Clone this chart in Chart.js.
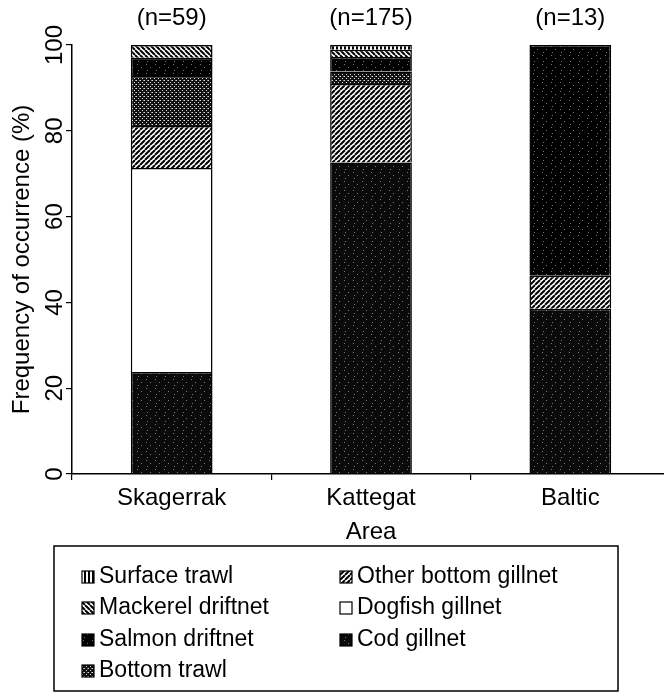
<!DOCTYPE html>
<html>
<head>
<meta charset="utf-8">
<script src="https://cdn.jsdelivr.net/npm/chart.js@4.4.1/dist/chart.umd.min.js"></script>
<style>
  html, body { margin: 0; padding: 0; background: #fff; overflow: hidden; }
  #wrap { width: 672px; height: 697px; }
</style>
</head>
<body>
<div id="wrap"><canvas id="freq" width="672" height="697"></canvas></div>
<script>
// categories + sample sizes shown over each bar
const areas = ["Skagerrak", "Kattegat", "Baltic"];
const sampleSizes = ["(n=59)", "(n=175)", "(n=13)"];
const yTicks = [0, 20, 40, 60, 80, 100];

// % of occurrence per gear, stacked bottom -> top
const codGillnet = [23.8, 72.6, 38.5];
const dogfishGillnet = [47.5, 0, 0];
const otherBottomGillnet = [9.8, 18.3, 7.7];
const bottomTrawl = [11.7, 2.9, 0];
const salmonDriftnet = [4.2, 3.4, 53.8];
const mackerelDriftnet = [3.0, 1.7, 0];
const surfaceTrawl = [0, 1.1, 0];

const FONT = "'Liberation Sans', Arial, sans-serif";
const canvas = document.getElementById("freq");
const mainCtx = canvas.getContext("2d");

function makePattern(size, draw) {
  const c = document.createElement("canvas");
  c.width = size;
  c.height = size;
  const g = c.getContext("2d");
  draw(g, size);
  return mainCtx.createPattern(c, "repeat");
}

function hatch(forward) {
  return makePattern(5, (g, s) => {
    g.fillStyle = "#fff";
    g.fillRect(0, 0, s, s);
    g.strokeStyle = "#000";
    g.lineWidth = 2;
    g.beginPath();
    for (let k = -1; k <= 1; k++) {
      if (forward) {
        g.moveTo(k * s, s);
        g.lineTo(k * s + s, 0);
      } else {
        g.moveTo(k * s, 0);
        g.lineTo(k * s + s, s);
      }
    }
    g.stroke();
  });
}

function speckle(base) {
  return makePattern(9, (g, s) => {
    g.fillStyle = base;
    g.fillRect(0, 0, s, s);
    g.fillStyle = "#777";
    g.fillRect(2, 1, 1, 1);
    g.fillRect(6, 4, 1, 1);
    g.fillRect(3, 7, 1, 1);
  });
}

const surfaceFill = makePattern(4, (g) => {
  g.fillStyle = "#fff";
  g.fillRect(0, 0, 4, 4);
  g.fillStyle = "#000";
  g.fillRect(0, 0, 2, 4);
});
const stippleFill = makePattern(4, (g) => {
  g.fillStyle = "#111";
  g.fillRect(0, 0, 4, 4);
  g.fillStyle = "#ddd";
  g.fillRect(0, 0, 1, 1);
  g.fillRect(2, 2, 1, 1);
  g.fillStyle = "#888";
  g.fillRect(3, 0, 1, 1);
});

const datasets = [
  { label: "Cod gillnet", data: codGillnet, backgroundColor: speckle("#0a0a0a") },
  { label: "Dogfish gillnet", data: dogfishGillnet, backgroundColor: "#fff" },
  { label: "Other bottom gillnet", data: otherBottomGillnet, backgroundColor: hatch(true) },
  { label: "Bottom trawl", data: bottomTrawl, backgroundColor: stippleFill },
  { label: "Salmon driftnet", data: salmonDriftnet, backgroundColor: speckle("#000") },
  { label: "Mackerel driftnet", data: mackerelDriftnet, backgroundColor: hatch(false) },
  { label: "Surface trawl", data: surfaceTrawl, backgroundColor: surfaceFill },
];
datasets.forEach((d) => {
  d.borderColor = "#000";
  d.borderWidth = 1.5;
  d.barPercentage = 0.41;
  d.categoryPercentage = 1;
});

// (n=..) above each bar
const sampleLabels = {
  id: "sampleLabels",
  afterDatasetsDraw(chart) {
    const { ctx, scales } = chart;
    ctx.save();
    ctx.font = `24px ${FONT}`;
    ctx.fillStyle = "#000";
    ctx.textAlign = "center";
    ctx.textBaseline = "middle";
    sampleSizes.forEach((t, i) => {
      ctx.fillText(t, scales.x.getPixelForValue(i), 18);
    });
    ctx.restore();
  },
};

// rotated y tick numbers
const yTickLabels = {
  id: "yTickLabels",
  afterDraw(chart) {
    const { ctx, scales } = chart;
    ctx.save();
    ctx.font = `24px ${FONT}`;
    ctx.fillStyle = "#000";
    ctx.textAlign = "center";
    ctx.textBaseline = "middle";
    yTicks.forEach((v) => {
      ctx.save();
      ctx.translate(55, scales.y.getPixelForValue(v));
      ctx.rotate(-Math.PI / 2);
      ctx.fillText(String(v), 0, 0);
      ctx.restore();
    });
    ctx.restore();
  },
};

// boxed two-column legend under the axis
const boxLegend = {
  id: "boxLegend",
  afterDraw(chart) {
    const ctx = chart.ctx;
    const items = chart.data.datasets.slice().reverse();
    const rows = [577, 608, 640, 671];
    ctx.save();
    ctx.strokeStyle = "#000";
    ctx.lineWidth = 1.5;
    ctx.strokeRect(54, 546, 564, 145);
    ctx.font = `23px ${FONT}`;
    ctx.textBaseline = "middle";
    items.forEach((ds, i) => {
      const col = i < 4 ? 0 : 1;
      const y = rows[col === 0 ? i : i - 4];
      const x = col === 0 ? 82 : 340;
      ctx.fillStyle = ds.backgroundColor;
      ctx.fillRect(x, y - 6, 12, 12);
      ctx.lineWidth = 1.2;
      ctx.strokeRect(x, y - 6, 12, 12);
      ctx.fillStyle = "#000";
      ctx.fillText(ds.label, x + 17, y);
    });
    ctx.restore();
  },
};

new Chart(canvas, {
  type: "bar",
  data: {
    labels: areas,
    datasets: datasets,
  },
  options: {
    responsive: false,
    animation: false,
    layout: {
      padding: { top: 45, right: 2, bottom: 149, left: 0 },
    },
    plugins: {
      legend: { display: false },
      tooltip: { enabled: false },
    },
    scales: {
      x: {
        stacked: true,
        afterFit: (s) => { s.height = 74; },
        border: { color: "#000", width: 1.5 },
        grid: {
          display: true,
          offset: true,
          drawOnChartArea: false,
          color: "#000",
          lineWidth: 1.2,
          tickLength: 6,
        },
        ticks: {
          color: "#000",
          padding: 4,
          font: { family: FONT, size: 24 },
        },
        title: {
          display: true,
          text: "Area",
          color: "#000",
          padding: { top: 0, bottom: 1 },
          font: { family: FONT, size: 24 },
        },
      },
      y: {
        stacked: true,
        min: 0,
        max: 100,
        afterFit: (s) => { s.width = 72; },
        border: { color: "#000", width: 1.5 },
        grid: {
          display: true,
          drawOnChartArea: false,
          color: "#000",
          lineWidth: 1.2,
          tickLength: 6,
        },
        ticks: {
          stepSize: 20,
          color: "rgba(0,0,0,0)",
          font: { family: FONT, size: 24 },
        },
        title: {
          display: true,
          text: "Frequency of occurrence (%)",
          color: "#000",
          padding: { top: 8, bottom: 0 },
          font: { family: FONT, size: 24 },
        },
      },
    },
  },
  plugins: [sampleLabels, yTickLabels, boxLegend],
});
</script>
</body>
</html>
